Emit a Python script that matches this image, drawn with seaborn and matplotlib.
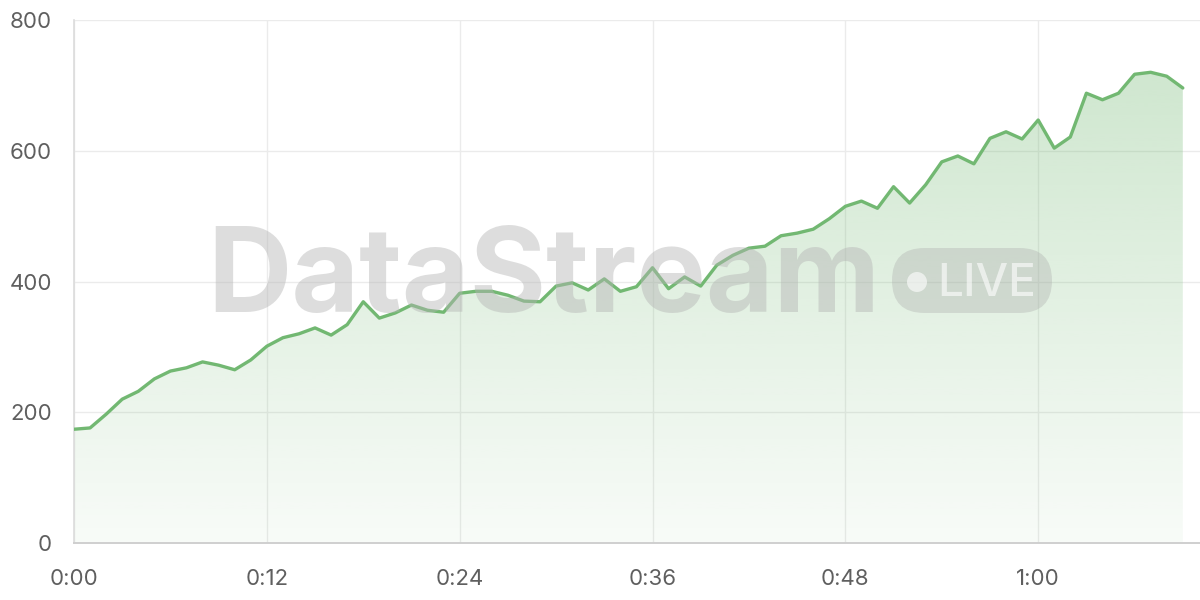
import numpy as np
import pandas as pd
import matplotlib
matplotlib.use('Agg')
import matplotlib.pyplot as plt
from matplotlib.patches import FancyBboxPatch, Ellipse
import seaborn as sns

# ---------------------------------------------------------------------------
# Dane
# ---------------------------------------------------------------------------

values = [
    174, 176, 197, 220, 232, 251, 263, 268, 277, 272,
    265, 280, 301, 314, 320, 329, 318, 334, 369, 344,
    352, 364, 356, 353, 382, 385, 385, 379, 370, 369,
    393, 398, 387, 404, 385, 392, 421, 389, 407, 393,
    425, 440, 451, 454, 470, 474, 480, 496, 515, 523,
    512, 545, 520, 548, 583, 592, 580, 619, 629, 618,
    647, 604, 621, 688, 678, 688, 717, 720, 714, 696,
]
minutes = np.arange(len(values))
tick_pos = [0, 12, 24, 36, 48, 60]
tick_labels = ['0:00', '0:12', '0:24', '0:36', '0:48', '1:00']
y_ticks = [0, 200, 400, 600, 800]

LINE = '#72b872'
TXT = '#5f5f5f'

df = pd.DataFrame({'minute': minutes, 'value': values})

# ---------------------------------------------------------------------------
# Wykres
# ---------------------------------------------------------------------------

sns.set_theme(style='white')
plt.rcParams['font.family'] = ['Inter', 'DejaVu Sans']

fig = plt.figure(figsize=(12, 6), dpi=100)
ax = fig.add_axes([74 / 1200, 1 - 543 / 600, 1 - 74 / 1200, (543 - 20) / 600])

ax.set_xlim(0, 70.07)
ax.set_ylim(0, 800)

# gradientowe wypełnienie pod linią
poly = ax.fill_between(df['minute'], df['value'], 0, color='none', lw=0)
ymax = max(values)
grad = np.linspace(0.05, 0.34, 256).reshape(-1, 1)
rgba = np.zeros((256, 1, 4))
rgba[..., :3] = matplotlib.colors.to_rgb(LINE)
rgba[..., 3] = grad
img = ax.imshow(rgba, extent=[0, minutes[-1], 0, ymax], origin='lower',
                aspect='auto', zorder=1, interpolation='bilinear')
img.set_clip_path(poly.get_paths()[0], transform=ax.transData)

sns.lineplot(data=df, x='minute', y='value', ax=ax, color=LINE,
             linewidth=2.4, zorder=4)

# siatka i osie
ax.set_xticks(tick_pos)
ax.set_xticklabels(tick_labels)
ax.set_yticks(y_ticks)
ax.grid(True, color='#ebebeb', linewidth=1.0, zorder=0)
ax.set_axisbelow(True)
for side in ['top', 'right']:
    ax.spines[side].set_visible(False)
ax.spines['left'].set_color('#dcdcdc')
ax.spines['left'].set_linewidth(1.2)
ax.spines['bottom'].set_color('#cfcfcf')
ax.spines['bottom'].set_linewidth(1.4)
ax.tick_params(axis='both', colors='#e3e3e3', labelcolor=TXT,
               labelsize=16, length=11, width=1)
ax.tick_params(axis='y', pad=5)
ax.tick_params(axis='x', pad=8)
ax.set_xlabel('')
ax.set_ylabel('')

# znak wodny
fig.text(207 / 1200, 1 - 312 / 600, 'DataStream', fontsize=84,
         fontweight='bold', color='#b4b4b4', alpha=0.45, ha='left',
         va='baseline', zorder=3)
box = FancyBboxPatch((892 / 1200, 1 - 313 / 600), 160 / 1200, 65 / 600,
                     boxstyle='round,pad=0,rounding_size=0.027',
                     transform=fig.transFigure, facecolor='#a8a8a8',
                     edgecolor='none', alpha=0.33, zorder=3,
                     mutation_aspect=2)
fig.patches.append(box)
fig.patches.append(Ellipse((917 / 1200, 1 - 282 / 600), 20 / 1200, 20 / 600,
                           transform=fig.transFigure, facecolor='white',
                           alpha=0.6, edgecolor='none', zorder=3))
fig.text(937 / 1200, 1 - 296 / 600, 'LIVE', fontsize=33, color='white',
         fontweight='medium', alpha=0.6, ha='left', va='baseline', zorder=3)

plt.savefig('out.png', dpi=100)
plt.close()
